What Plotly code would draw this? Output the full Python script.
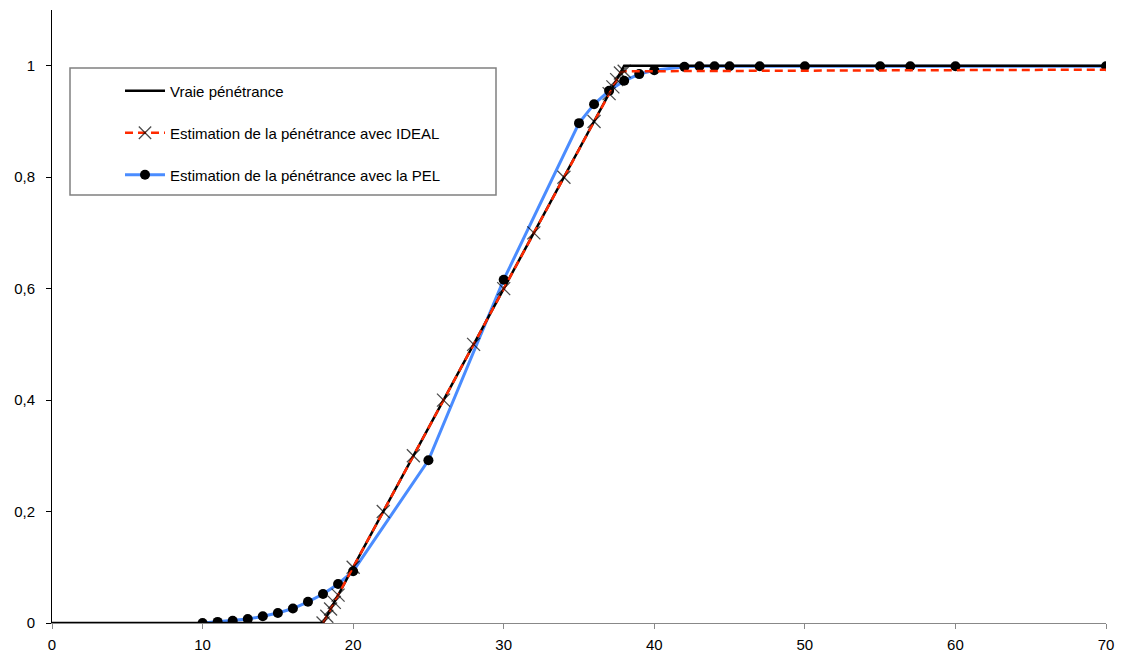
import plotly.graph_objects as go

# True penetrance
true_x = [0, 18, 38, 70]
true_y = [0, 0, 1, 1]

# IDEAL estimate
ideal_x = [18, 18.25, 18.5, 18.75, 19, 20, 22, 24, 26, 28, 30, 32, 34, 36, 37, 37.25, 37.5, 37.75, 38, 70]
ideal_y = [0, 0.012, 0.025, 0.037, 0.05, 0.1, 0.2, 0.3, 0.4, 0.5, 0.6, 0.7, 0.8, 0.9, 0.95, 0.962, 0.975, 0.987, 0.99, 0.993]
ideal_marker_size = [13] * 19 + [0]

# PEL estimate
pel_x = [10, 11, 12, 13, 14, 15, 16, 17, 18, 19, 20, 25, 30, 35, 36, 37, 38, 39, 40, 42, 43, 44, 45, 47, 50, 55, 57, 60, 70]
pel_y = [0.0, 0.002, 0.004, 0.007, 0.012, 0.018, 0.026, 0.038, 0.052, 0.07, 0.093, 0.292, 0.616, 0.897, 0.931, 0.955, 0.973, 0.985, 0.992, 0.998, 0.999, 0.999, 0.999, 0.999, 0.999, 0.999, 0.999, 0.999, 0.999]

names = ["Vraie pénétrance",
         "Estimation de la pénétrance avec IDEAL",
         "Estimation de la pénétrance avec la PEL"]

fig = go.Figure()
fig.add_trace(go.Scatter(x=pel_x, y=pel_y, mode="lines+markers", name=names[2],
                         line=dict(color="#4A8CFF", width=3),
                         marker=dict(symbol="circle", size=10, color="black"),
                         legend="legend3"))
fig.add_trace(go.Scatter(x=true_x, y=true_y, mode="lines", name=names[0],
                         line=dict(color="black", width=2.5),
                         legend="legend"))
fig.add_trace(go.Scatter(x=ideal_x, y=ideal_y, mode="lines+markers", name=names[1],
                         line=dict(color="#FF2A00", width=2.5, dash="8px,5px"),
                         marker=dict(symbol="x-thin-open", size=ideal_marker_size, color="black",
                                     line=dict(color="black", width=1.3)),
                         legend="legend2"))

OFF = 8  # page body margin
W, H = 1123 - OFF, 659 - OFF
L, R, T, B = 52 - OFF, 17, 10 - OFF, 36
pw, ph = W - L - R, H - T - B

def px(xp):  # page pixel -> paper
    return (xp - OFF - L) / pw

def py(yp):
    return (H - B - (yp - OFF)) / ph

FONT = "Liberation Sans, Arial, sans-serif"
legend_common = dict(bgcolor="rgba(0,0,0,0)", borderwidth=0, xanchor="left", yanchor="middle",
                     font=dict(family=FONT, size=15, color="black"),
                     itemwidth=40)

fig.update_layout(
    width=W, height=H,
    margin=dict(l=L, r=R, t=T, b=B),
    paper_bgcolor="white", plot_bgcolor="white",
    separators=", ",
    font=dict(family=FONT, size=15, color="black"),
    showlegend=True,
    legend=dict(x=px(120), y=py(91), **legend_common),
    legend2=dict(x=px(120), y=py(133), **legend_common),
    legend3=dict(x=px(120), y=py(175), **legend_common),
    xaxis=dict(range=[0, 70], dtick=10, tick0=0, showgrid=False, zeroline=False,
               showline=True, linecolor="#888888", linewidth=1,
               ticks="outside", ticklen=5, tickcolor="#888888",
               ticklabelstandoff=3, automargin=False,
               tickfont=dict(size=15)),
    yaxis=dict(range=[0, 1.1], tickvals=[0, 0.2, 0.4, 0.6, 0.8, 1], showgrid=False, zeroline=False,
               showline=True, linecolor="black", linewidth=1,
               ticks="outside", ticklen=5, tickcolor="black",
               ticklabelstandoff=8, automargin=False,
               tickfont=dict(size=15)),
    shapes=[dict(type="rect", xref="paper", yref="paper",
                 x0=px(70), x1=px(496), y0=py(195), y1=py(68),
                 line=dict(color="#808080", width=1.5), fillcolor="rgba(0,0,0,0)")],
)

fig.write_html("out.html")
